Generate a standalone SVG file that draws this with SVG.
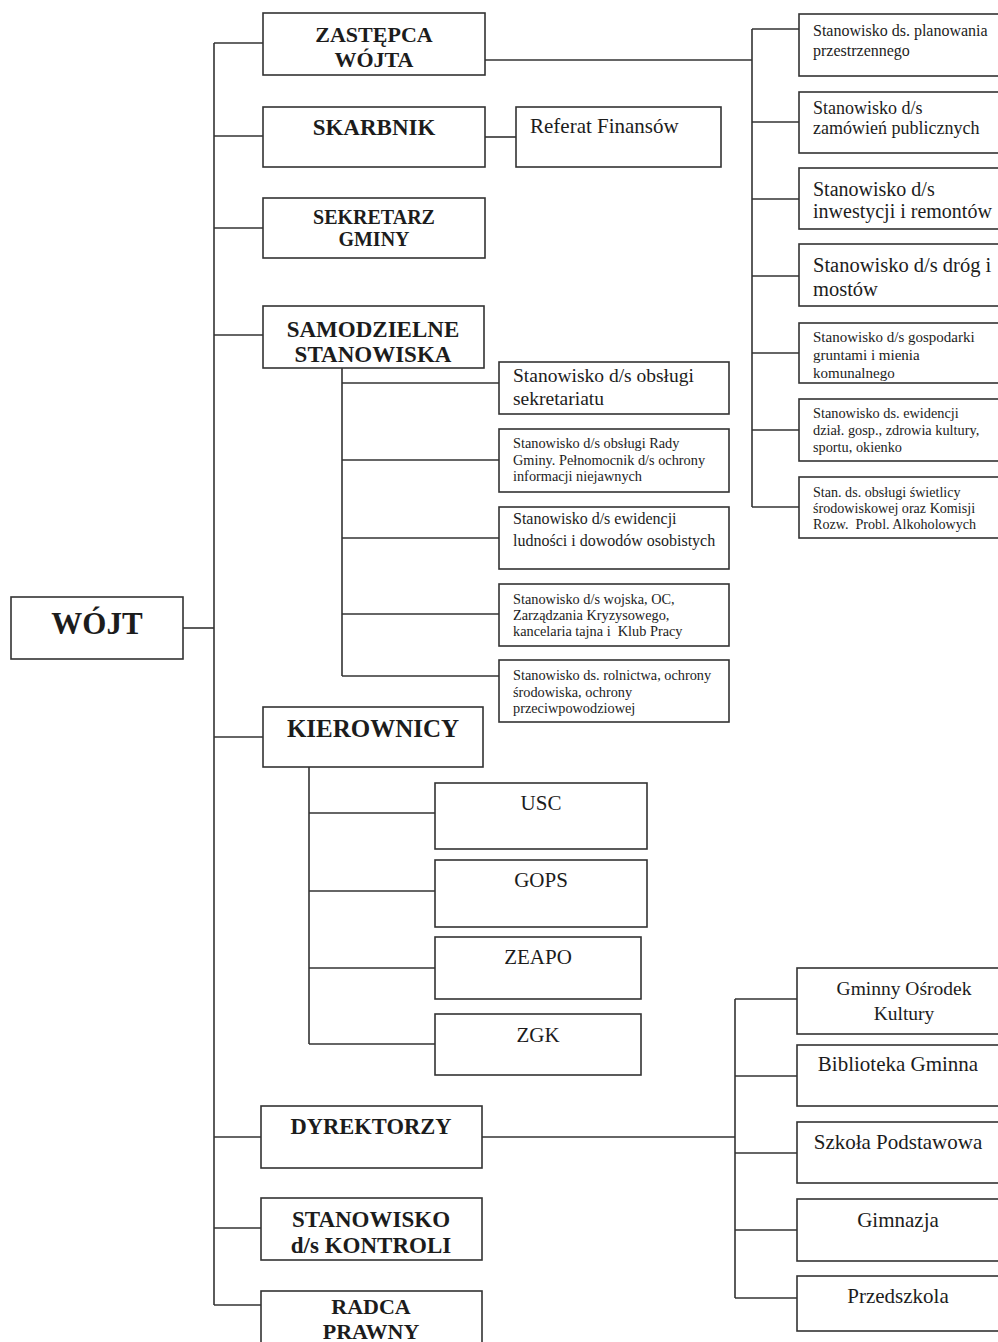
<svg xmlns="http://www.w3.org/2000/svg" width="998" height="1342" viewBox="0 0 998 1342">
<style>
rect{fill:#fff;stroke:#333;stroke-width:1.6}
.c line{stroke:#333;stroke-width:1.6;fill:none}
text{font-family:"Liberation Serif","Times New Roman",serif;fill:#1c1c1c}
.b{font-weight:bold;text-anchor:middle}
.m{text-anchor:middle}
</style>
<rect x="0" y="0" width="998" height="1342" style="fill:#fff;stroke:none"/>
<g class="c" id="connectors">
<line x1="214" y1="43" x2="214" y2="1305"/>
<line x1="183" y1="628" x2="214" y2="628"/>
<line x1="214" y1="43" x2="263" y2="43"/>
<line x1="214" y1="136" x2="263" y2="136"/>
<line x1="214" y1="228" x2="263" y2="228"/>
<line x1="214" y1="335" x2="263" y2="335"/>
<line x1="214" y1="737" x2="263" y2="737"/>
<line x1="214" y1="1137" x2="261" y2="1137"/>
<line x1="214" y1="1228" x2="261" y2="1228"/>
<line x1="214" y1="1305" x2="261" y2="1305"/>
<line x1="485" y1="60" x2="752" y2="60"/>
<line x1="752" y1="29" x2="752" y2="507"/>
<line x1="752" y1="29" x2="799" y2="29"/>
<line x1="752" y1="122" x2="799" y2="122"/>
<line x1="752" y1="199" x2="799" y2="199"/>
<line x1="752" y1="276" x2="799" y2="276"/>
<line x1="752" y1="353" x2="799" y2="353"/>
<line x1="752" y1="430" x2="799" y2="430"/>
<line x1="752" y1="507" x2="799" y2="507"/>
<line x1="485" y1="137" x2="516" y2="137"/>
<line x1="342" y1="368" x2="342" y2="676"/>
<line x1="342" y1="383" x2="499" y2="383"/>
<line x1="342" y1="460" x2="499" y2="460"/>
<line x1="342" y1="538" x2="499" y2="538"/>
<line x1="342" y1="614" x2="499" y2="614"/>
<line x1="342" y1="676" x2="499" y2="676"/>
<line x1="309" y1="767" x2="309" y2="1044"/>
<line x1="309" y1="813" x2="435" y2="813"/>
<line x1="309" y1="891" x2="435" y2="891"/>
<line x1="309" y1="968" x2="435" y2="968"/>
<line x1="309" y1="1044" x2="435" y2="1044"/>
<line x1="482" y1="1137" x2="735" y2="1137"/>
<line x1="735" y1="999" x2="735" y2="1298"/>
<line x1="735" y1="999" x2="797" y2="999"/>
<line x1="735" y1="1076" x2="797" y2="1076"/>
<line x1="735" y1="1153" x2="797" y2="1153"/>
<line x1="735" y1="1230" x2="797" y2="1230"/>
<line x1="735" y1="1298" x2="797" y2="1298"/>
</g>
<g id="wojt"><rect x="11" y="597" width="172" height="62"/><text class="b" x="97" y="634" font-size="31">WÓJT</text></g>
<g id="zastepca"><rect x="263" y="13" width="222" height="62"/><text class="b" x="374" y="42" font-size="22">ZASTĘPCA</text><text class="b" x="374" y="67" font-size="22">WÓJTA</text></g>
<g id="skarbnik"><rect x="263" y="107" width="222" height="60"/><text class="b" x="374" y="135" font-size="23">SKARBNIK</text></g>
<g id="sekretarz"><rect x="263" y="198" width="222" height="60"/><text class="b" x="374" y="224" font-size="20">SEKRETARZ</text><text class="b" x="374" y="246" font-size="20">GMINY</text></g>
<g id="samodzielne"><rect x="263" y="306" width="221" height="62"/><text class="b" x="373" y="337" font-size="23">SAMODZIELNE</text><text class="b" x="373" y="362" font-size="23">STANOWISKA</text></g>
<g id="kierownicy"><rect x="263" y="707" width="220" height="60"/><text class="b" x="373" y="737" font-size="25">KIEROWNICY</text></g>
<g id="dyrektorzy"><rect x="261" y="1106" width="221" height="62"/><text class="b" x="371" y="1134" font-size="22.5">DYREKTORZY</text></g>
<g id="kontroli"><rect x="261" y="1198" width="221" height="62"/><text class="b" x="371" y="1227" font-size="23">STANOWISKO</text><text class="b" x="371" y="1253" font-size="23">d/s KONTROLI</text></g>
<g id="radca"><rect x="261" y="1291" width="221" height="70"/><text class="b" x="371" y="1314" font-size="22">RADCA</text><text class="b" x="371" y="1339" font-size="22">PRAWNY</text></g>
<g id="referat"><rect x="516" y="107" width="205" height="60"/><text x="530" y="133" font-size="21">Referat Finansów</text></g>
<g id="r1"><rect x="799" y="14" width="201" height="62"/><text x="813" y="36" font-size="16">Stanowisko ds. planowania</text><text x="813" y="56" font-size="16">przestrzennego</text></g>
<g id="r2"><rect x="799" y="92" width="201" height="61"/><text x="813" y="114" font-size="18">Stanowisko d/s</text><text x="813" y="134" font-size="18">zamówień publicznych</text></g>
<g id="r3"><rect x="799" y="168" width="201" height="61"/><text x="813" y="196" font-size="20">Stanowisko d/s</text><text x="813" y="218" font-size="20">inwestycji i remontów</text></g>
<g id="r4"><rect x="799" y="244" width="201" height="62"/><text x="813" y="272" font-size="20.5">Stanowisko d/s dróg i</text><text x="813" y="296" font-size="20.5">mostów</text></g>
<g id="r5"><rect x="799" y="323" width="201" height="60"/><text x="813" y="342" font-size="15">Stanowisko d/s gospodarki</text><text x="813" y="360" font-size="15">gruntami i mienia</text><text x="813" y="378" font-size="15">komunalnego</text></g>
<g id="r6"><rect x="799" y="399" width="201" height="62"/><text x="813" y="418" font-size="14.3">Stanowisko ds. ewidencji</text><text x="813" y="435" font-size="14.3">dział. gosp., zdrowia kultury,</text><text x="813" y="452" font-size="14.3">sportu, okienko</text></g>
<g id="r7"><rect x="799" y="477" width="201" height="61"/><text x="813" y="497" font-size="14.1">Stan. ds. obsługi świetlicy</text><text x="813" y="513" font-size="14.1">środowiskowej oraz Komisji</text><text x="813" y="529" font-size="14.1" xml:space="preserve">Rozw.  Probl. Alkoholowych</text></g>
<g id="s1"><rect x="499" y="362" width="230" height="52"/><text x="513" y="382" font-size="19.5">Stanowisko d/s obsługi</text><text x="513" y="405" font-size="19.5">sekretariatu</text></g>
<g id="s2"><rect x="499" y="429" width="230" height="63"/><text x="513" y="448" font-size="14.3">Stanowisko d/s obsługi Rady</text><text x="513" y="465" font-size="14.3">Gminy. Pełnomocnik d/s ochrony</text><text x="513" y="481" font-size="14.3">informacji niejawnych</text></g>
<g id="s3"><rect x="499" y="507" width="230" height="62"/><text x="513" y="524" font-size="16">Stanowisko d/s ewidencji</text><text x="513" y="546" font-size="16">ludności i dowodów osobistych</text></g>
<g id="s4"><rect x="499" y="584" width="230" height="62"/><text x="513" y="604" font-size="14.3">Stanowisko d/s wojska, OC,</text><text x="513" y="620" font-size="14.3">Zarządzania Kryzysowego,</text><text x="513" y="636" font-size="14.3" xml:space="preserve">kancelaria tajna i  Klub Pracy</text></g>
<g id="s5"><rect x="499" y="660" width="230" height="62"/><text x="513" y="680" font-size="14.3">Stanowisko ds. rolnictwa, ochrony</text><text x="513" y="697" font-size="14.3">środowiska, ochrony</text><text x="513" y="713" font-size="14.3">przeciwpowodziowej</text></g>
<g id="usc"><rect x="435" y="783" width="212" height="66"/><text class="m" x="541" y="810" font-size="21">USC</text></g>
<g id="gops"><rect x="435" y="860" width="212" height="67"/><text class="m" x="541" y="887" font-size="21">GOPS</text></g>
<g id="zeapo"><rect x="435" y="937" width="206" height="62"/><text class="m" x="538" y="964" font-size="21">ZEAPO</text></g>
<g id="zgk"><rect x="435" y="1014" width="206" height="61"/><text class="m" x="538" y="1042" font-size="21">ZGK</text></g>
<g id="gok"><rect x="797" y="968" width="203" height="66"/><text class="m" x="904" y="995" font-size="19.5">Gminny Ośrodek</text><text class="m" x="904" y="1020" font-size="19.5">Kultury</text></g>
<g id="biblioteka"><rect x="797" y="1045" width="203" height="61"/><text class="m" x="898" y="1071" font-size="21">Biblioteka Gminna</text></g>
<g id="szkola"><rect x="797" y="1122" width="203" height="61"/><text class="m" x="898" y="1149" font-size="21">Szkoła Podstawowa</text></g>
<g id="gimnazja"><rect x="797" y="1199" width="203" height="62"/><text class="m" x="898" y="1227" font-size="21">Gimnazja</text></g>
<g id="przedszkola"><rect x="797" y="1276" width="203" height="55"/><text class="m" x="898" y="1303" font-size="21">Przedszkola</text></g>
</svg>
